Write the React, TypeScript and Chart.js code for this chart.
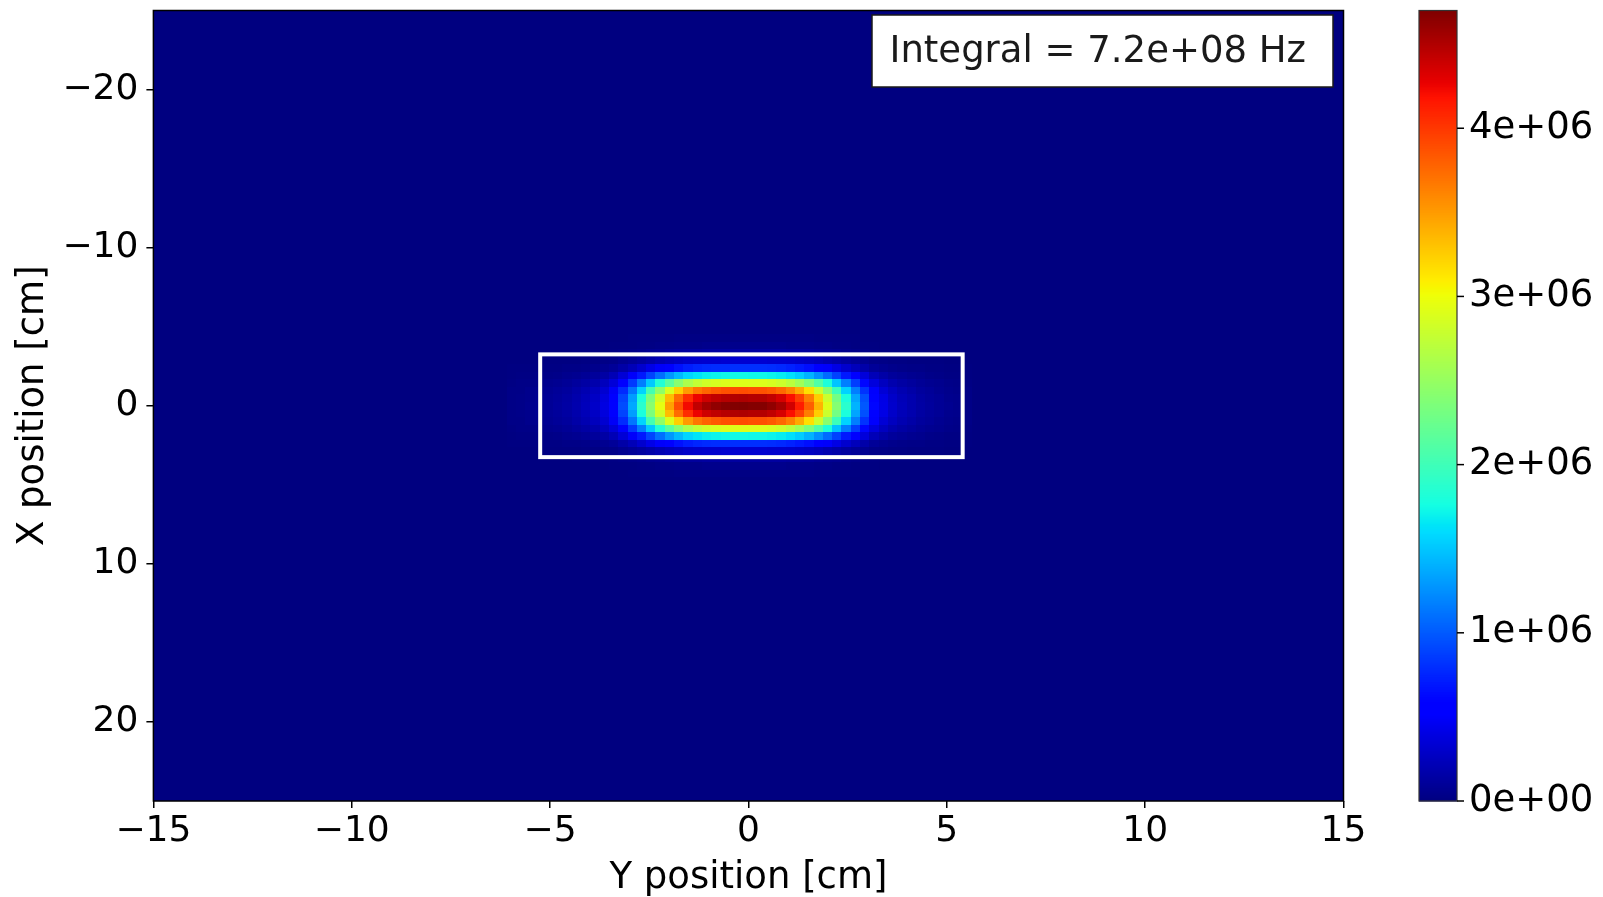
import React, { useEffect, useRef } from "react";
import { Chart, registerables } from "chart.js";

Chart.register(...registerables);

// ---------------- data ----------------
// Horizontal axis: "Y position" in cm, 128 bins from -15 to 15
const yPosRange = [-15, 15];
const yPosBinCount = 128;
// Vertical axis: "X position" in cm, 105 bins from -25 to 25
const xPosRange = [-25, 25];
const xPosBinCount = 105;

// Block of non-zero bins (rate in units of 1e4 Hz), rows = X bins 43..61, cols = Y bins 38..87
const blockFirstRow = 43;
const blockFirstCol = 38;
const rateBlock1e4Hz: number[][] = [
  [0,0,0,0,0,0,0,0,0,0,0,0,0,1,1,1,1,1,2,2,2,2,2,2,2,2,2,2,2,2,2,2,2,1,1,1,1,1,0,0,0,0,0,0,0,0,0,0,0,0],
  [0,0,0,0,0,0,0,0,0,0,0,1,1,1,2,2,3,3,4,4,4,5,5,5,5,5,5,5,5,5,4,4,4,3,3,2,2,1,1,1,0,0,0,0,0,0,0,0,0,0],
  [0,0,0,0,0,0,0,1,1,1,1,2,3,4,5,7,8,10,11,12,12,13,13,13,13,13,13,13,13,13,12,12,11,9,8,7,5,4,3,2,1,1,1,1,0,0,0,0,0,0],
  [0,0,0,0,1,1,1,1,2,2,3,4,7,10,13,17,21,24,27,30,31,32,32,33,33,33,33,33,32,32,31,29,27,24,20,17,13,10,7,4,3,2,2,1,1,1,1,0,0,0],
  [1,1,1,1,2,2,3,3,4,5,7,10,16,23,32,42,50,59,66,72,76,78,79,79,80,80,80,80,79,77,74,70,65,58,50,41,32,24,17,10,7,5,4,3,3,2,2,1,1,1],
  [1,2,2,3,3,4,6,7,9,11,15,22,35,50,70,90,110,129,144,157,164,169,171,173,174,174,173,173,171,168,162,153,141,125,108,89,70,52,37,23,16,11,9,7,6,4,3,2,2,1],
  [2,3,3,4,6,7,9,12,15,18,25,36,58,85,117,152,184,216,242,262,275,283,287,290,291,291,290,290,287,281,271,256,236,210,181,149,117,87,61,38,26,19,15,12,9,7,6,4,3,2],
  [3,3,5,6,8,10,12,16,20,25,33,49,78,113,156,203,246,289,324,351,369,378,384,388,389,390,388,388,384,376,363,343,316,281,242,199,156,117,82,51,35,26,20,16,12,10,7,5,4,3],
  [3,4,5,7,9,11,14,18,23,28,38,56,90,131,180,235,284,334,374,406,426,438,444,448,450,451,449,449,444,435,420,397,365,325,280,230,180,135,95,59,41,30,23,19,14,11,9,6,5,3],
  [3,4,6,7,9,12,15,19,24,30,40,59,94,136,188,244,296,348,390,423,444,456,463,467,469,470,468,468,463,454,437,414,381,338,291,240,188,141,99,61,42,31,24,19,15,12,9,7,5,3],
  [3,4,5,7,9,11,14,18,23,28,38,56,90,131,180,235,284,334,374,406,426,438,444,448,450,451,449,449,444,435,420,397,365,325,280,230,180,135,95,59,41,30,23,19,14,11,9,6,5,3],
  [3,3,5,6,8,10,12,16,20,25,33,49,78,113,156,203,246,289,324,351,369,378,384,388,389,390,388,388,384,376,363,343,316,281,242,199,156,117,82,51,35,26,20,16,12,10,7,5,4,3],
  [2,3,3,4,6,7,9,12,15,18,25,36,58,85,117,152,184,216,242,262,275,283,287,290,291,291,290,290,287,281,271,256,236,210,181,149,117,87,61,38,26,19,15,12,9,7,6,4,3,2],
  [1,2,2,3,3,4,6,7,9,11,15,22,35,50,70,90,110,129,144,157,164,169,171,173,174,174,173,173,171,168,162,153,141,125,108,89,70,52,37,23,16,11,9,7,6,4,3,2,2,1],
  [1,1,1,1,2,2,3,3,4,5,7,10,16,23,32,42,50,59,66,72,76,78,79,79,80,80,80,80,79,77,74,70,65,58,50,41,32,24,17,10,7,5,4,3,3,2,2,1,1,1],
  [0,0,0,0,1,1,1,1,2,2,3,4,7,10,13,17,21,24,27,30,31,32,32,33,33,33,33,33,32,32,31,29,27,24,20,17,13,10,7,4,3,2,2,1,1,1,1,0,0,0],
  [0,0,0,0,0,0,0,1,1,1,1,2,3,4,5,7,8,10,11,12,12,13,13,13,13,13,13,13,13,13,12,12,11,9,8,7,5,4,3,2,1,1,1,1,0,0,0,0,0,0],
  [0,0,0,0,0,0,0,0,0,0,0,1,1,1,2,2,3,3,4,4,4,5,5,5,5,5,5,5,5,5,4,4,4,3,3,2,2,1,1,1,0,0,0,0,0,0,0,0,0,0],
  [0,0,0,0,0,0,0,0,0,0,0,0,0,1,1,1,1,1,2,2,2,2,2,2,2,2,2,2,2,2,2,2,2,1,1,1,1,1,0,0,0,0,0,0,0,0,0,0,0,0],
];
const rateUnitHz = 1e4;

// colour scale
const colorbarRange = [0, 4.7e6];
const colorbarTicks = [0, 1e6, 2e6, 3e6, 4e6];
const colorbarTickLabels = ["0e+00", "1e+06", "2e+06", "3e+06", "4e+06"];

// axis ticks
const yPosTicks = [-15, -10, -5, 0, 5, 10, 15];
const xPosTicks = [-20, -10, 0, 10, 20];

// acceptance window (cm)
const windowYPos = [-5.25, 5.4];
const windowXPos = [-3.25, 3.25];

const integralText = "Integral = 7.2e+08 Hz";
const xAxisTitle = "Y position [cm]";
const yAxisTitle = "X position [cm]";

// ---------------- helpers ----------------
const FONT = "'DejaVu Sans', 'Liberation Sans', sans-serif";

const jetSeg: Record<string, number[][]> = {
  r: [[0, 0], [0.35, 0], [0.66, 1], [0.89, 1], [1, 0.5]],
  g: [[0, 0], [0.125, 0], [0.375, 1], [0.64, 1], [0.91, 0], [1, 0]],
  b: [[0, 0.5], [0.11, 1], [0.34, 1], [0.65, 0], [1, 0]],
};
function segInterp(seg: number[][], t: number) {
  for (let i = 1; i < seg.length; i++) {
    if (t <= seg[i][0]) {
      const [t0, v0] = seg[i - 1];
      const [t1, v1] = seg[i];
      return v0 + ((t - t0) / (t1 - t0)) * (v1 - v0);
    }
  }
  return seg[seg.length - 1][1];
}
function jet(t: number) {
  const c = Math.max(0, Math.min(1, t));
  const r = Math.round(segInterp(jetSeg.r, c) * 255);
  const g = Math.round(segInterp(jetSeg.g, c) * 255);
  const b = Math.round(segInterp(jetSeg.b, c) * 255);
  return `rgb(${r},${g},${b})`;
}
const fmtMinus = (v: number) => (v < 0 ? "\u2212" + Math.abs(v) : String(v));

type Cell = { x: number; y: number; v: number; row: number; col: number };
function buildCells(): Cell[] {
  const cells: Cell[] = [];
  const dy = (yPosRange[1] - yPosRange[0]) / yPosBinCount;
  const dx = (xPosRange[1] - xPosRange[0]) / xPosBinCount;
  rateBlock1e4Hz.forEach((rowVals, ri) => {
    rowVals.forEach((val, ci) => {
      if (val <= 0) return;
      const row = blockFirstRow + ri;
      const col = blockFirstCol + ci;
      cells.push({
        x: yPosRange[0] + (col + 0.5) * dy,
        y: xPosRange[0] + (row + 0.5) * dx,
        v: val * rateUnitHz,
        row,
        col,
      });
    });
  });
  return cells;
}

const heatmapPlugin = {
  id: "heatmap",
  beforeDatasetsDraw(chart: any) {
    const { ctx, chartArea: a, scales } = chart;
    const xs = scales.x;
    const ys = scales.y;
    const dy = (yPosRange[1] - yPosRange[0]) / yPosBinCount;
    const dx = (xPosRange[1] - xPosRange[0]) / xPosBinCount;
    ctx.save();
    ctx.fillStyle = jet(0);
    ctx.fillRect(a.left, a.top, a.right - a.left, a.bottom - a.top);
    const cells: Cell[] = chart.data.datasets[0].data;
    for (const c of cells) {
      const px0 = Math.round(xs.getPixelForValue(yPosRange[0] + c.col * dy));
      const px1 = Math.round(xs.getPixelForValue(yPosRange[0] + (c.col + 1) * dy));
      const py0 = Math.round(ys.getPixelForValue(xPosRange[0] + c.row * dx));
      const py1 = Math.round(ys.getPixelForValue(xPosRange[0] + (c.row + 1) * dx));
      ctx.fillStyle = jet((c.v - colorbarRange[0]) / (colorbarRange[1] - colorbarRange[0]));
      ctx.fillRect(Math.min(px0, px1), Math.min(py0, py1), Math.abs(px1 - px0), Math.abs(py1 - py0));
    }
    ctx.restore();
  },
  afterDatasetsDraw(chart: any) {
    const { ctx, chartArea: a, scales } = chart;
    const xs = scales.x;
    const ys = scales.y;
    ctx.save();
    // acceptance window
    const wx0 = xs.getPixelForValue(windowYPos[0]);
    const wx1 = xs.getPixelForValue(windowYPos[1]);
    const wy0 = ys.getPixelForValue(windowXPos[0]);
    const wy1 = ys.getPixelForValue(windowXPos[1]);
    ctx.strokeStyle = "#ffffff";
    ctx.lineWidth = 4;
    ctx.strokeRect(wx0, Math.min(wy0, wy1), wx1 - wx0, Math.abs(wy1 - wy0));
    // frame
    ctx.strokeStyle = "#000000";
    ctx.lineWidth = 1.5;
    ctx.strokeRect(a.left, a.top, a.right - a.left, a.bottom - a.top);
    // integral annotation box
    ctx.font = `37px ${FONT}`;
    const tw = ctx.measureText(integralText).width;
    const padL = 17.5;
    const padR = 27;
    const bw = tw + padL + padR;
    const bh = 72;
    const bx = a.right - 10.5 - bw;
    const by = a.top + 4.5;
    ctx.fillStyle = "#ffffff";
    ctx.fillRect(bx, by, bw, bh);
    ctx.strokeStyle = "#1a1a1a";
    ctx.lineWidth = 1.5;
    ctx.strokeRect(bx, by, bw, bh);
    ctx.fillStyle = "#1a1a1a";
    ctx.textBaseline = "middle";
    ctx.textAlign = "left";
    ctx.fillText(integralText, bx + padL, by + bh / 2 + 1);
    ctx.restore();
  },
  afterDraw(chart: any) {
    const { ctx } = chart;
    const cb = chart.scales.cb;
    const barLeft = cb.left + 75.5;
    const barRight = cb.left + 113.5;
    ctx.save();
    const steps = 470;
    const span = colorbarRange[1] - colorbarRange[0];
    for (let k = 0; k < steps; k++) {
      const v0 = colorbarRange[0] + (k / steps) * span;
      const v1 = colorbarRange[0] + ((k + 1) / steps) * span;
      const p0 = cb.getPixelForValue(v0);
      const p1 = cb.getPixelForValue(v1);
      ctx.fillStyle = jet((k + 0.5) / steps);
      ctx.fillRect(barLeft, Math.min(p0, p1) - 0.5, barRight - barLeft, Math.abs(p1 - p0) + 1);
    }
    ctx.strokeStyle = "#333333";
    ctx.lineWidth = 1.2;
    ctx.strokeRect(barLeft, cb.top, barRight - barLeft, cb.bottom - cb.top);
    ctx.strokeStyle = "#000000";
    ctx.lineWidth = 1.5;
    for (const t of colorbarTicks) {
      const p = cb.getPixelForValue(t);
      ctx.beginPath();
      ctx.moveTo(barRight, p);
      ctx.lineTo(barRight + 7, p);
      ctx.stroke();
    }
    ctx.restore();
  },
};

export default function App() {
  const ref = useRef<HTMLCanvasElement | null>(null);
  useEffect(() => {
    if (!ref.current) return;
    const tickFont = { family: FONT, size: 36 };
    const chart = new Chart(ref.current, {
      type: "scatter",
      data: {
        datasets: [
          {
            data: buildCells() as any,
            pointRadius: 0,
            pointHoverRadius: 0,
            showLine: false,
          },
        ],
      },
      options: {
        animation: false,
        responsive: false,
        events: [],
        layout: { padding: { left: 0, right: 0, top: 10.5, bottom: 0 } },
        plugins: { legend: { display: false }, tooltip: { enabled: false } },
        scales: {
          x: {
            type: "linear",
            position: "bottom",
            min: yPosRange[0],
            max: yPosRange[1],
            afterBuildTicks: (s: any) => {
              s.ticks = yPosTicks.map((v) => ({ value: v }));
            },
            afterFit: (s: any) => {
              s.height = 96;
              s.paddingLeft = 0;
              s.paddingRight = 0;
            },
            ticks: {
              font: tickFont,
              color: "#000",
              padding: 2,
              maxRotation: 0,
              autoSkip: false,
              callback: (v: any) => fmtMinus(Number(v)),
            },
            grid: { drawOnChartArea: false, tickLength: 7, color: "#000", lineWidth: 1.5 },
            border: { display: false },
            title: {
              display: true,
              text: xAxisTitle,
              font: { family: FONT, size: 37 },
              color: "#000",
              padding: { top: 0, bottom: -3.6 },
            },
          },
          y: {
            type: "linear",
            position: "left",
            reverse: true,
            min: xPosRange[0],
            max: xPosRange[1],
            afterBuildTicks: (s: any) => {
              s.ticks = xPosTicks.map((v) => ({ value: v }));
            },
            afterFit: (s: any) => {
              s.width = 153.4;
              s.paddingTop = 0;
              s.paddingBottom = 0;
            },
            ticks: {
              font: tickFont,
              color: "#000",
              padding: 8,
              autoSkip: false,
              callback: (v: any) => fmtMinus(Number(v)),
            },
            grid: { drawOnChartArea: false, tickLength: 7, color: "#000", lineWidth: 1.5 },
            border: { display: false },
            title: {
              display: true,
              text: yAxisTitle,
              font: { family: FONT, size: 37 },
              color: "#000",
              padding: { top: 11, bottom: 0 },
            },
          },
          cb: {
            type: "linear",
            position: "right",
            min: colorbarRange[0],
            max: colorbarRange[1],
            afterBuildTicks: (s: any) => {
              s.ticks = colorbarTicks.map((v) => ({ value: v }));
            },
            afterFit: (s: any) => {
              s.width = 1603 - 1343.5;
              s.paddingTop = 0;
              s.paddingBottom = 0;
            },
            ticks: {
              font: { family: FONT, size: 37 },
              color: "#000",
              padding: 125.5,
              autoSkip: false,
              callback: (v: any) => {
                const i = colorbarTicks.indexOf(Number(v));
                return i >= 0 ? colorbarTickLabels[i] : "";
              },
            },
            grid: { display: false, drawTicks: false, drawOnChartArea: false },
            border: { display: false },
          },
        },
      },
      plugins: [heatmapPlugin],
    });
    return () => chart.destroy();
  }, []);

  return (
    <div style={{ position: "fixed", left: 0, top: 0, width: 1603, height: 897, background: "#ffffff" }}>
      <canvas ref={ref} width={1603} height={897} style={{ width: 1603, height: 897, display: "block" }} />
    </div>
  );
}
